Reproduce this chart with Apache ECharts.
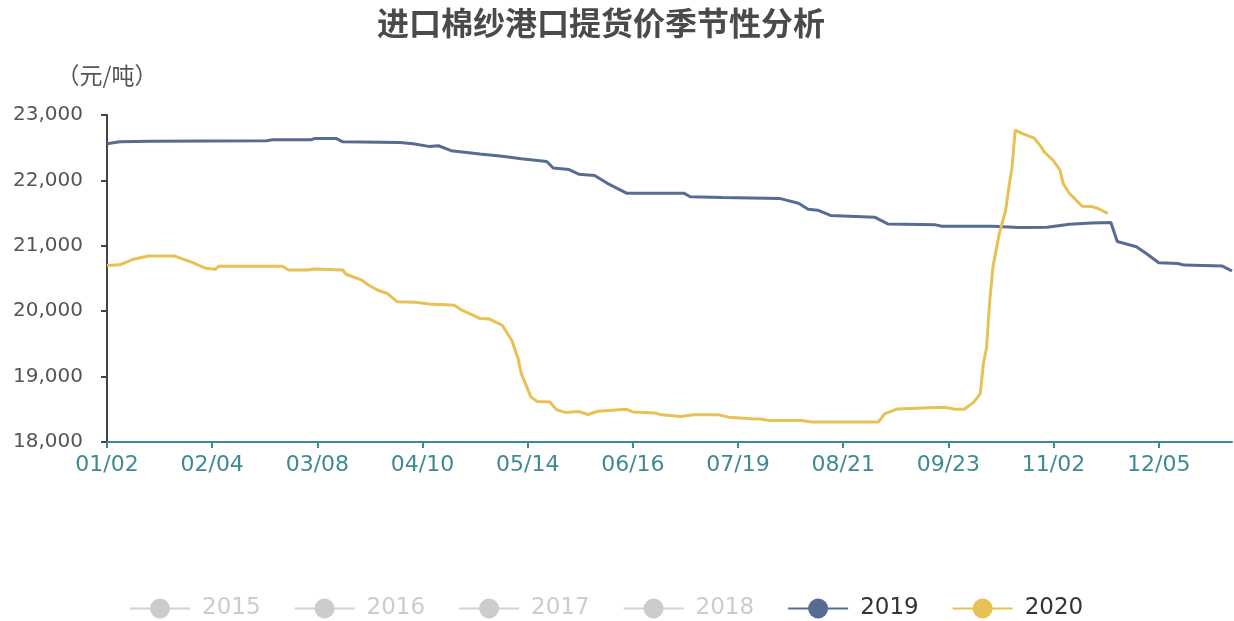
<!DOCTYPE html>
<html>
<head>
	<meta charset="utf-8">
	<title>进口棉纱港口提货价季节性分析</title>
    <script src="https://cdn.jsdelivr.net/npm/echarts@6/dist/echarts.min.js"></script>
    <style>
        html, body { margin: 0; padding: 0; background: #fff; }
    </style>
</head>
<body>
    <div id="main" style="width: 1234px;height:621px;"></div>

	<script>
        // x 轴: 自 01/02 起的天数, 每 33 天一个刻度
        var tickLabels = ['01/02', '02/04', '03/08', '04/10', '05/14', '06/16', '07/19', '08/21', '09/23', '11/02', '12/05'];
        var tickStep = 33;
        var lastDay = 353;

        var years = ['2015', '2016', '2017', '2018', '2019', '2020'];

        // [天数, 元/吨]
        var price2019 = [
            [0, 22560], [4, 22590], [14, 22600], [50, 22605], [52, 22620], [64, 22620], [65, 22640], [72, 22640],
            [74, 22590], [92, 22580], [96, 22560], [101, 22520], [104, 22530], [108, 22455], [117, 22405],
            [124, 22370], [130, 22330], [138, 22290], [140, 22190], [145, 22165], [148, 22095], [153, 22075],
            [157, 21955], [163, 21805], [181, 21805], [183, 21750], [193, 21740], [211, 21725], [217, 21650],
            [220, 21560], [223, 21545], [227, 21465], [241, 21435], [245, 21335], [260, 21320], [262, 21300],
            [278, 21300], [286, 21280], [295, 21285], [302, 21330], [309, 21350], [315, 21355], [317, 21065],
            [323, 20985], [326, 20885], [330, 20740], [336, 20730], [338, 20705], [350, 20690], [353, 20615]
        ];
        var price2020 = [
            [0, 20700], [4, 20710], [8, 20790], [13, 20845], [21, 20845], [26, 20760], [31, 20655], [34, 20640],
            [35, 20688], [55, 20688], [57, 20630], [63, 20630], [65, 20645], [74, 20630], [75, 20565], [80, 20475],
            [82, 20400], [85, 20320], [88, 20270], [91, 20145], [97, 20135], [101, 20110], [109, 20090],
            [111, 20025], [117, 19890], [120, 19880], [124, 19785], [127, 19555], [129, 19275], [130, 19045],
            [133, 18690], [135, 18620], [139, 18610], [141, 18495], [144, 18450], [148, 18465], [151, 18420],
            [154, 18470], [163, 18500], [165, 18460], [172, 18445], [174, 18415], [180, 18390], [184, 18415],
            [192, 18415], [195, 18380], [202, 18355], [205, 18350], [208, 18330], [218, 18330], [221, 18305],
            [242, 18305], [244, 18430], [248, 18505], [258, 18525], [263, 18530], [266, 18500], [269, 18500],
            [272, 18610], [274, 18740], [275, 19200], [276, 19450], [277, 20170], [278, 20680], [280, 21190],
            [282, 21545], [283, 21900], [284, 22210], [285, 22770], [287, 22720], [291, 22645], [293, 22520],
            [294, 22440], [297, 22300], [299, 22160], [300, 21955], [302, 21800], [306, 21605], [309, 21600],
            [311, 21570], [314, 21495]
        ];

        var colors = ['#c23531', '#2f4554', '#61a0a8', '#d48265', '#566c92', '#e7c153'];
        var seriesData = [[], [], [], [], price2019, price2020];

		var myChart = echarts.init(document.getElementById('main'));

        var series = years.map(function (y, i) {
            return {
                name: y,
                type: 'line',
                symbol: 'circle',
                showSymbol: false,
                lineStyle: { width: 3 },
                itemStyle: { color: colors[i] },
                data: seriesData[i]
            };
        });

        var tickDays = tickLabels.map(function (_, i) { return i * tickStep; });

		myChart.setOption({
            animation: false,
            title: {
                text: '进口棉纱港口提货价季节性分析',
                left: 372,
                top: 2,
                textStyle: {
                    fontFamily: 'Noto Sans CJK SC',
                    fontSize: 32,
                    fontWeight: 'bold',
                    color: '#4a4a4a'
                }
            },
            legend: {
                data: years,
                bottom: -4,
                left: 124,
                itemWidth: 60,
                itemHeight: 25,
                itemGap: 33,
                selected: { '2015': false, '2016': false, '2017': false, '2018': false },
                textStyle: {
                    fontFamily: 'DejaVu Sans',
                    fontSize: 23,
                    color: '#333',
                    padding: [0, 0, 0, 7]
                },
                inactiveColor: '#cccccc'
            },
            grid: {
                left: 107,
                right: 2,
                top: 115,
                bottom: 179
            },
            xAxis: {
                type: 'value',
                min: 0,
                max: lastDay,
                interval: tickStep,
                splitLine: { show: false },
                axisLine: { lineStyle: { color: '#3e8a92', width: 2 } },
                axisTick: {
                    length: 6,
                    lineStyle: { color: '#3e8a92', width: 2 },
                    customValues: tickDays
                },
                axisLabel: {
                    customValues: tickDays,
                    margin: 12,
                    fontFamily: 'DejaVu Sans',
                    fontSize: 22,
                    color: '#3e8a92',
                    formatter: function (v) {
                        return v % tickStep === 0 ? (tickLabels[v / tickStep] || '') : '';
                    }
                }
            },
            yAxis: {
                type: 'value',
                min: 18000,
                max: 23000,
                interval: 1000,
                name: '（元/吨）',
                nameGap: 28,
                nameTextStyle: {
                    fontFamily: 'Noto Sans CJK SC',
                    fontSize: 23,
                    color: '#555'
                },
                splitLine: { show: false },
                axisLine: { show: true, lineStyle: { color: '#444', width: 2 } },
                axisTick: { show: true, length: 6, lineStyle: { color: '#444', width: 2 } },
                axisLabel: {
                    margin: 24,
                    fontFamily: 'DejaVu Sans',
                    fontSize: 20,
                    color: '#555'
                }
            },
            series: series
        });
	</script>

</body>
</html>
